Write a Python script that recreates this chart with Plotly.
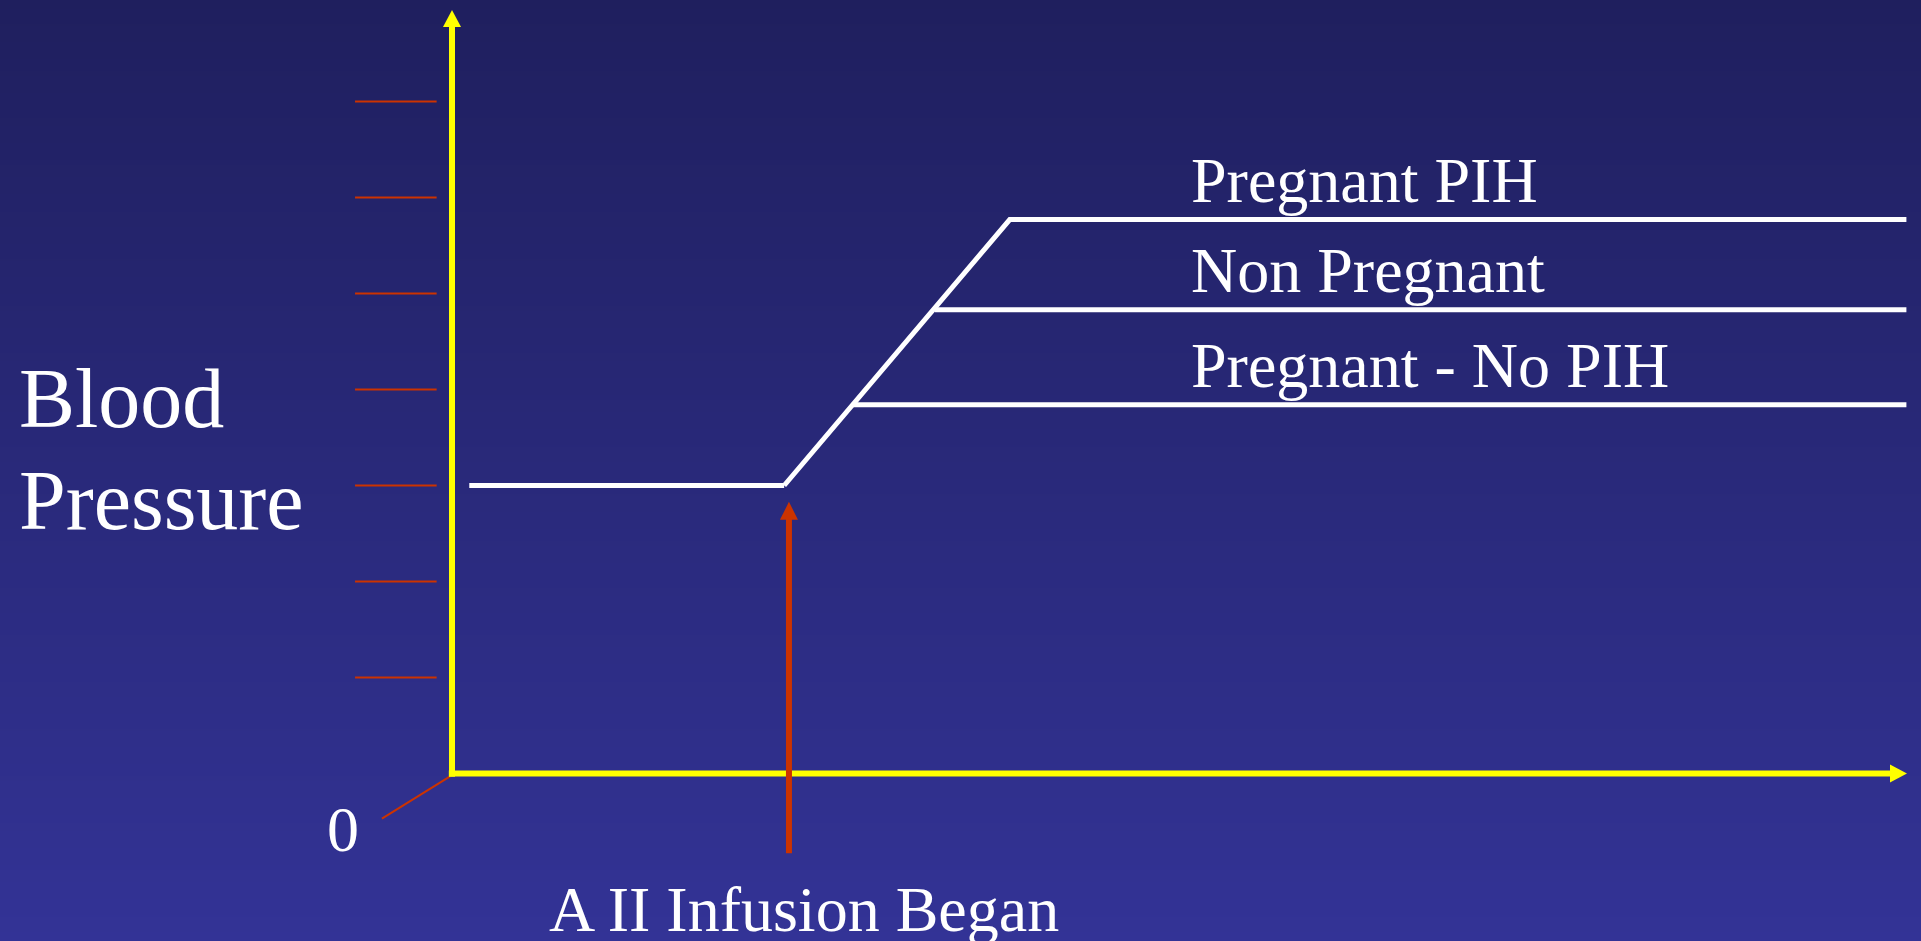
import zlib, struct, base64
import plotly.graph_objects as go

# ---------------- data (arbitrary units) ----------------
y_ticks = [1, 2, 3, 4, 5, 6, 7]
baseline_time = [0.18, 3.46]
baseline_bp = [3.0, 3.0]
pih_time = [3.46, 5.81, 15.15]
pih_bp = [3.0, 5.77, 5.77]
nonpreg_time = [5.03, 15.15]
nonpreg_bp = [4.83, 4.83]
nopih_time = [4.17, 15.15]
nopih_bp = [3.84, 3.84]
series_labels = ["Pregnant PIH", "Non Pregnant", "Pregnant - No PIH"]
series_levels = [pih_bp[-1], nonpreg_bp[-1], nopih_bp[-1]]
infusion_time = 3.51
infusion_label = "A II Infusion Began"
y_title = ["Blood", "Pressure"]
origin_label = "0"

# ---------------- geometry / styles ----------------
W, H = 1921, 941
UNIT = 96.0           # pixels per data unit (both axes)
X0_PX, Y0_PX = 452.0, 773.5
PX = 1.0 / UNIT
x_range = [-X0_PX / UNIT, (W - X0_PX) / UNIT]
y_range = [(Y0_PX - H) / UNIT, Y0_PX / UNIT]

x_axis_end = 15.156
y_axis_end = 7.953
infusion_tail = -0.83
infusion_tip = 2.83

YELLOW = "#FFFF00"
RED = "#CC3300"
WHITE = "#FFFFFF"
FONT = "Liberation Serif, Times New Roman, serif"
TOP_RGB = (31, 31, 94)
BOT_RGB = (51, 51, 150)


def png_gradient(top, bottom, h):
    rows = bytearray()
    for i in range(h):
        t = i / (h - 1)
        c = bytes(round(top[k] + (bottom[k] - top[k]) * t) for k in range(3))
        rows += b"\x00" + c * 2

    def chunk(tag, data):
        return (struct.pack(">I", len(data)) + tag + data +
                struct.pack(">I", zlib.crc32(tag + data) & 0xFFFFFFFF))

    ihdr = struct.pack(">IIBBBBB", 2, h, 8, 2, 0, 0, 0)
    png = (b"\x89PNG\r\n\x1a\n" + chunk(b"IHDR", ihdr) +
           chunk(b"IDAT", zlib.compress(bytes(rows))) + chunk(b"IEND", b""))
    return "data:image/png;base64," + base64.b64encode(png).decode()


fig = go.Figure()


def line(xs, ys, color, width):
    fig.add_trace(go.Scatter(x=xs, y=ys, mode="lines",
                             line=dict(color=color, width=width),
                             hoverinfo="skip", showlegend=False))


def head(tip_x, tip_y, direction, color, length_px=17, width_px=18):
    L = length_px * PX
    hw = width_px / 2 * PX
    if direction == "up":
        xs = [tip_x - hw, tip_x + hw, tip_x, tip_x - hw]
        ys = [tip_y - L, tip_y - L, tip_y, tip_y - L]
    else:  # right
        xs = [tip_x - L, tip_x - L, tip_x, tip_x - L]
        ys = [tip_y - hw, tip_y + hw, tip_y, tip_y - hw]
    fig.add_trace(go.Scatter(x=xs, y=ys, mode="lines", fill="toself",
                             fillcolor=color, line=dict(color=color, width=0),
                             hoverinfo="skip", showlegend=False))


# red tick marks on the left of the value axis
for t in y_ticks:
    line([-1.01, -0.16], [t, t], RED, 2)
# red receding stub at origin
line([-0.02, -0.73], [-0.03, -0.47], RED, 2)

# yellow axes
line([0, 0], [-0.033, y_axis_end - 17 * PX + 0.01], YELLOW, 6)
head(0, y_axis_end, "up", YELLOW)
line([-0.033, x_axis_end - 17 * PX + 0.01], [0, 0], YELLOW, 6)
head(x_axis_end, 0, "right", YELLOW)

# red infusion arrow
line([infusion_time, infusion_time], [infusion_tail, infusion_tip - 18 * PX + 0.01], RED, 6)
head(infusion_time, infusion_tip, "up", RED, length_px=18, width_px=18)

# white response curves
line(baseline_time, baseline_bp, WHITE, 5)
line(pih_time, pih_bp, WHITE, 5)
line(nonpreg_time, nonpreg_bp, WHITE, 5)
line(nopih_time, nopih_bp, WHITE, 5)

annotations = []
for lab, lvl in zip(series_labels, series_levels):
    annotations.append(dict(x=7.68, y=lvl + 0.41, xref="x", yref="y", text=lab,
                            showarrow=False, xanchor="left", yanchor="middle",
                            font=dict(family=FONT, size=64, color=WHITE)))
annotations.append(dict(x=0.99, y=-1.42, xref="x", yref="y", text=infusion_label,
                        showarrow=False, xanchor="left", yanchor="middle",
                        font=dict(family=FONT, size=64, color=WHITE)))
annotations.append(dict(x=-1.135, y=-0.58, xref="x", yref="y", text=origin_label,
                        showarrow=False, xanchor="center", yanchor="middle",
                        font=dict(family=FONT, size=64, color=WHITE)))
for txt, yy in zip(y_title, [3.905, 2.845]):
    annotations.append(dict(x=-4.53, y=yy, xref="x", yref="y", text=txt,
                            showarrow=False, xanchor="left", yanchor="middle",
                            font=dict(family=FONT, size=84, color=WHITE)))

fig.update_layout(
    width=W, height=H,
    margin=dict(l=0, r=0, t=0, b=0, pad=0),
    paper_bgcolor="rgb(41,41,122)",
    plot_bgcolor="rgba(0,0,0,0)",
    xaxis=dict(range=x_range, visible=False, fixedrange=True),
    yaxis=dict(range=y_range, visible=False, fixedrange=True),
    showlegend=False,
    annotations=annotations,
    images=[dict(source=png_gradient(TOP_RGB, BOT_RGB, H), xref="paper", yref="paper",
                 x=0, y=1, sizex=1, sizey=1, xanchor="left", yanchor="top",
                 sizing="stretch", layer="below")],
)

fig.write_html("out.html", config={"displayModeBar": False},
               post_script="document.body.style.margin='0';document.body.style.overflow='hidden';")
